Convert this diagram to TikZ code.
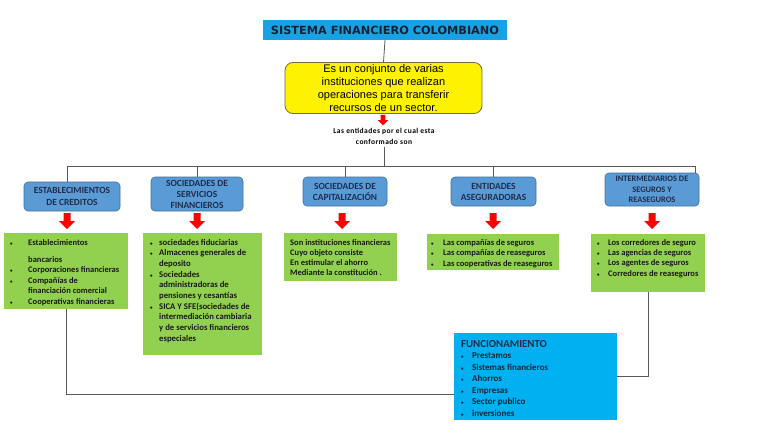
\documentclass[tikz,border=0pt]{standalone}
\usepackage{fontspec}
\setmainfont{Carlito}
\newfontfamily\arialf{Liberation Sans}
\newfontfamily\dejaf{DejaVu Sans}
\newfontfamily\spacedf[LetterSpace=6]{Carlito}
\usetikzlibrary{calc}
\definecolor{titleblue}{HTML}{17A2E3}
\definecolor{funblue}{HTML}{00B0F0}
\definecolor{boxblue}{HTML}{5B9BD5}
\definecolor{boxblueedge}{HTML}{41719C}
\definecolor{leafgreen}{HTML}{92D050}
\definecolor{arrred}{HTML}{FF0000}
\definecolor{navy}{HTML}{1F2D4D}
\definecolor{linegray}{HTML}{595959}
\definecolor{yeledge}{HTML}{6D6D4A}
\newcommand\bul{{\fontsize{5}{5}\selectfont •}}
\begin{document}
\begin{tikzpicture}[x=1pt,y=-1pt,
  conn/.style={draw=linegray,line width=0.8pt},
  bluebox/.style={draw=boxblueedge,fill=boxblue,rounded corners=4pt,line width=0.6pt,inner sep=0pt,align=center,text=navy,font=\fontsize{9.4}{11.5}\selectfont\bfseries},
  greenbox/.style={fill=leafgreen,inner sep=0pt},
  gtext/.style={anchor=base west,inner sep=0pt,text=black!90},
  redarr/.pic={\fill[arrred] (-3.5,0) -- (3.5,0) -- (3.5,8) -- (8,8) -- (0,16) -- (-8,8) -- (-3.5,8) -- cycle;}
]
\useasboundingbox (0,0) rectangle (768,433);
\fill[white] (0,0) rectangle (768,433);

% title and definition
\node[fill=titleblue,minimum width=244pt,minimum height=20pt,inner sep=0pt,
      font=\dejaf\bfseries\fontsize{11.3}{13}\selectfont,text=navy!70!black] (title) at (385,30) {SISTEMA FINANCIERO COLOMBIANO};
\node[draw=yeledge,fill=yellow,rounded corners=8pt,line width=0.8pt,minimum width=197pt,minimum height=51pt,
      inner sep=0pt,align=center,font=\arialf\fontsize{11}{13}\selectfont] (yel) at (383.5,88)
      {Es un conjunto de varias\\instituciones que realizan\\operaciones para transferir\\recursos de un sector.};
\pic[scale=0.65] at (383,115) {redarr};
\node[align=center,inner sep=2pt,font=\spacedf\fontsize{7.5}{11}\selectfont\bfseries] (ent) at (384,136.5)
      {Las entidades por el cual esta\\conformado son};

% blue boxes
\node[bluebox,minimum width=96pt,minimum height=29pt] (b1) at (72,196.5) {ESTABLECIMIENTOS\\DE CREDITOS};
\node[bluebox,minimum width=92pt,minimum height=34pt,font=\fontsize{9.4}{11}\selectfont\bfseries] (b2) at (197,194) {SOCIEDADES DE\\SERVICIOS\\FINANCIEROS};
\node[bluebox,minimum width=84pt,minimum height=29pt,font=\fontsize{9.4}{11}\selectfont\bfseries] (b3) at (345,191.5) {SOCIEDADES DE\\CAPITALIZACIÓN};
\node[bluebox,minimum width=85pt,minimum height=29pt,font=\fontsize{9.4}{11}\selectfont\bfseries] (b4) at (493.5,191.5) {ENTIDADES\\ASEGURADORAS};
\node[bluebox,minimum width=94pt,minimum height=33pt,font=\fontsize{8.4}{10.5}\selectfont\bfseries] (b5) at (652,189.5) {INTERMEDIARIOS DE\\SEGUROS Y\\REASEGUROS};

% connectors top
\coordinate (hl) at (67,166);
\coordinate (hr) at (695,166);
\draw[conn] (title.south) -- (yel.north);
\draw[conn] (ent.south) -- (ent.south |- hl);
\draw[conn] (hl) -- (hr);
\draw[conn] (hl) -- (hl |- b1.north);
\draw[conn] (b2.north |- hl) -- (b2.north);
\draw[conn] (b3.north |- hl) -- (b3.north);
\draw[conn] (b4.north |- hl) -- (b4.north);
\draw[conn] (hr) -- (hr |- b5.north);

% red arrows
\pic at (67,213) {redarr};
\pic at (197,213) {redarr};
\pic at (342,213) {redarr};
\pic at (493,213) {redarr};
\pic at (652,213) {redarr};

% green boxes
\node[greenbox,minimum width=124pt,minimum height=76pt] (g1) at (66,271) {};
\node[greenbox,minimum width=119pt,minimum height=122pt] (g2) at (202.5,294) {};
\node[greenbox,minimum width=113pt,minimum height=48pt] (g3) at (340.5,257) {};
\node[greenbox,minimum width=132pt,minimum height=36pt] (g4) at (493,252) {};
\node[greenbox,minimum width=114pt,minimum height=58pt] (g5) at (648,263) {};

\node[gtext,font=\fontsize{8.5}{10.5}\selectfont\bfseries] (g1t) at (10,245)
 {\begin{tabular}[t]{@{}p{18pt}@{}l@{}}\bul&Establecimientos\\[6.5pt]&bancarios\\\bul&Corporaciones financieras\\\bul&Compañías de\\&financiación comercial\\\bul&Cooperativas financieras\end{tabular}};
\node[gtext,font=\fontsize{8.7}{10.7}\selectfont\bfseries] (g2t) at (150,245)
 {\begin{tabular}[t]{@{}p{9pt}@{}l@{}}\bul&sociedades fiduciarias\\\bul&Almacenes generales de\\&deposito\\\bul&Sociedades\\&administradoras de\\&pensiones y cesantías\\\bul&SICA Y SFE(sociedades de\\&intermediación cambiaria\\&y de servicios financieros\\&especiales\end{tabular}};
\node[gtext,font=\fontsize{8.5}{10.3}\selectfont\bfseries] (g3t) at (290,245)
 {\begin{tabular}[t]{@{}l@{}}Son instituciones financieras\\Cuyo objeto consiste\\En estimular el ahorro\\Mediante la constitución .\end{tabular}};
\node[gtext,font=\fontsize{8.5}{10.5}\selectfont\bfseries] (g4t) at (431,245)
 {\begin{tabular}[t]{@{}p{12pt}@{}l@{}}\bul&Las compañías de seguros\\\bul&Las compañías de reaseguros\\\bul&Las cooperativas de reaseguros\end{tabular}};
\node[gtext,font=\fontsize{8.5}{10.4}\selectfont\bfseries] (g5t) at (597,245)
 {\begin{tabular}[t]{@{}p{11pt}@{}l@{}}\bul&Los corredores de seguro\\\bul&Las agencias de seguros\\\bul&Los agentes de seguros\\\bul&Corredores de reaseguros\end{tabular}};

% funcionamiento
\node[fill=funblue,minimum width=163pt,minimum height=87pt,inner sep=0pt] (fun) at (535.5,376.5) {};
\node[anchor=base west,inner sep=0pt,text=navy,font=\fontsize{10.8}{12}\selectfont\bfseries] (funt) at (461,347) {FUNCIONAMIENTO};
\node[gtext,text=navy!80!black,font=\fontsize{9}{11.5}\selectfont\bfseries] (funi) at (461,358.5)
 {\begin{tabular}[t]{@{}p{11pt}@{}l@{}}\bul&Prestamos\\\bul&Sistemas financieros\\\bul&Ahorros\\\bul&Empresas\\\bul&Sector publico\\\bul&inversiones\end{tabular}};

% bottom connectors
\draw[conn] (g1.south) |- ($(fun.south west)+(0,-26)$);
\draw[conn] (g5.south) |- (fun.east);
\end{tikzpicture}
\end{document}
